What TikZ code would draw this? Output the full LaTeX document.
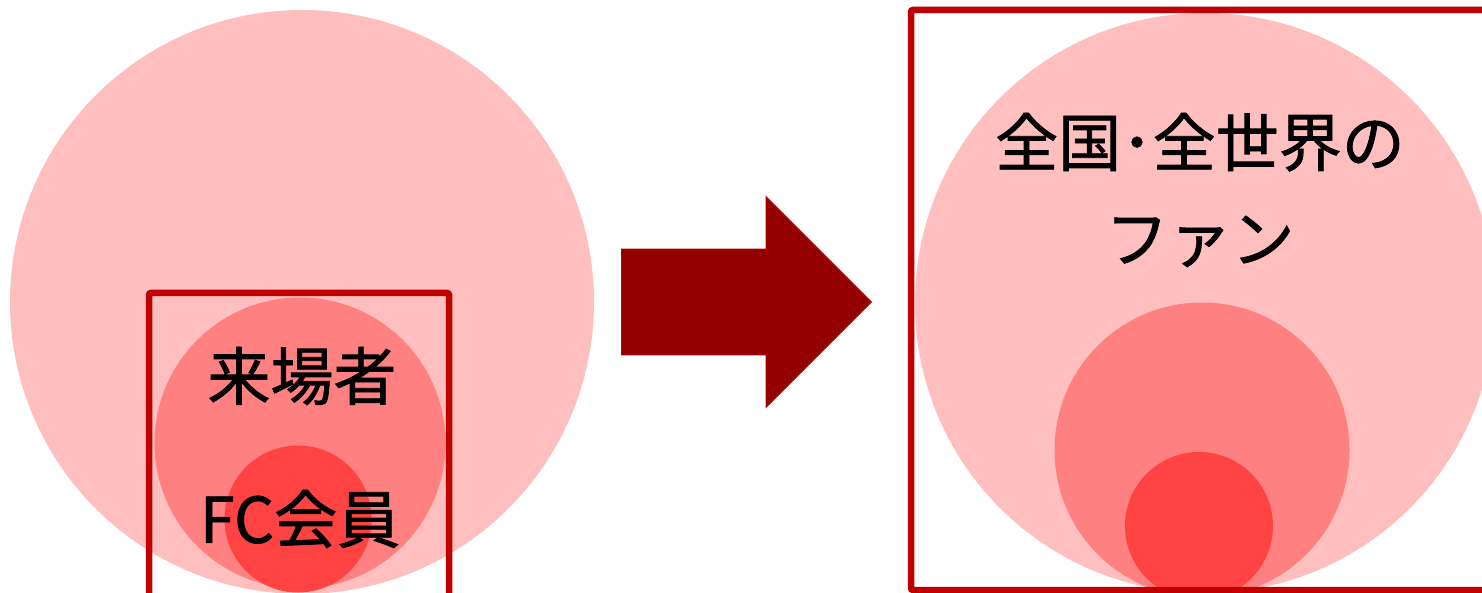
\documentclass[tikz,border=0pt]{standalone}
\usepackage{fontspec}
\newfontfamily\jpfont[FakeBold=1.2]{Noto Sans CJK JP}
\usetikzlibrary{shapes.arrows}

\definecolor{fanpink}{HTML}{FFBFBF}
\definecolor{visitorpink}{HTML}{FF8080}
\definecolor{memberred}{HTML}{FF4343}
\definecolor{framered}{HTML}{C00000}
\definecolor{arrowred}{HTML}{920000}

\begin{document}
\begin{tikzpicture}[
    x=1pt, y=-1pt,
    fans/.style={circle, fill=fanpink, inner sep=0pt, minimum size=#1},
    visitors/.style={circle, fill=visitorpink, inner sep=0pt, minimum size=#1},
    members/.style={circle, fill=memberred, inner sep=0pt, minimum size=#1},
    framebox/.style={draw=framered, line width=6.5pt, rounded corners=2pt, inner sep=0pt},
    jptext/.style={font=\jpfont\fontsize{63}{96}\selectfont, align=center, inner sep=0pt},
    bigarrow/.style={single arrow, fill=arrowred, draw=framered, line width=0.8pt, inner xsep=0pt, inner ysep=52.5pt,
        single arrow head extend=52.5pt, single arrow tip angle=90, minimum height=250pt}
]
\useasboundingbox (0,0) rectangle (1482,593);
\clip (0,0) rectangle (1482,593);

% Now: visitors inside the stadium
\node[fans=584pt] (fansL) at (302,302) {};
\node[visitors=291pt] (visitorsL) at (300,443) {};
\node[members=147pt] (membersL) at (298,519) {};
\node[framebox, minimum width=300pt, minimum height=310pt] (boxL) at (299,448) {};
\node[jptext] (visitorsT) at (302,376) {来場者};
\node[jptext] (membersT) at (300,519) {FC会員};

% Arrow
\node[bigarrow, anchor=tip] (arrow) at (872,302) {};

% Later: fans all over the world
\node[fans=580pt] (fansR) at (1205,303) {};
\node[visitors=295pt] (visitorsR) at (1202,450) {};
\node[members=148pt] (membersR) at (1199,526) {};
\node[framebox, minimum width=590pt, minimum height=580pt] (boxR) at (1206,300) {};
\node[jptext] (fansT) at (1200,190) {全国･全世界の\\ファン};

\end{tikzpicture}
\end{document}
